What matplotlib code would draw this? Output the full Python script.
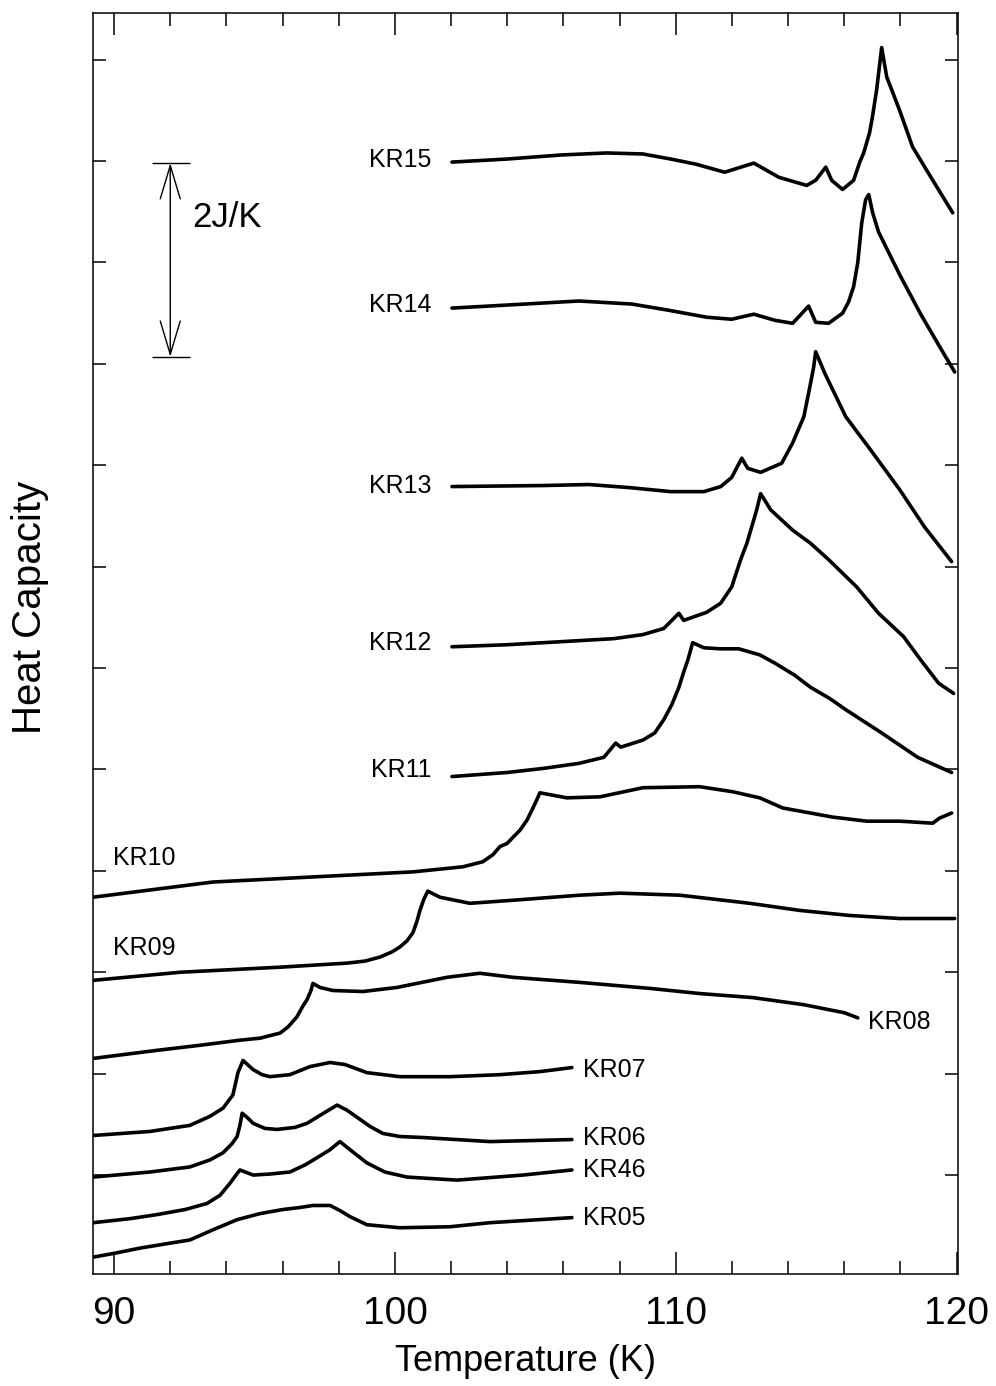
import matplotlib
matplotlib.use("Agg")
import matplotlib.pyplot as plt
from matplotlib.ticker import MultipleLocator

plt.rcParams['font.family'] = ['Liberation Sans', 'DejaVu Sans']

# ---------------- data (temperature K, heat capacity in offset units) ----------------
kr15_T = [102.03, 103.99, 105.91, 107.54, 108.83, 109.82, 110.71, 111.74, 112.78, 113.67, 114.66, 114.98, 115.34,
          115.55, 115.94, 116.33, 116.55, 116.69, 116.90, 117.01, 117.15, 117.33, 117.51, 117.97, 118.43, 119.15, 119.86]
kr15_C = [10.99, 11.02, 11.06, 11.08, 11.07, 11.02, 10.97, 10.89, 10.98, 10.84, 10.76, 10.81, 10.94,
          10.81, 10.72, 10.81, 10.99, 11.08, 11.28, 11.45, 11.70, 12.12, 11.83, 11.50, 11.14, 10.81, 10.49]

kr14_T = [102.03, 103.99, 106.55, 108.43, 109.72, 111.10, 111.99, 112.78, 113.52, 114.16, 114.73, 114.98,
          115.44, 115.94, 116.15, 116.33, 116.48, 116.62, 116.76, 116.87, 117.01, 117.22, 117.97, 118.72,
          119.50, 119.93]
kr14_C = [9.55, 9.58, 9.62, 9.59, 9.53, 9.46, 9.44, 9.49, 9.43, 9.40, 9.57, 9.41,
          9.40, 9.50, 9.61, 9.76, 10.00, 10.39, 10.62, 10.67, 10.49, 10.30, 9.88, 9.49,
          9.12, 8.92]

kr13_T = [102.03, 105.27, 106.90, 108.33, 109.82, 111.00, 111.60, 111.99, 112.35, 112.56, 113.02, 113.77,
          114.16, 114.56, 114.80, 114.91, 114.98, 115.30, 116.05, 116.94, 117.97, 118.86, 119.82]
kr13_C = [7.79, 7.80, 7.81, 7.78, 7.74, 7.74, 7.79, 7.88, 8.07, 7.97, 7.93, 8.02,
          8.22, 8.48, 8.81, 8.97, 9.12, 8.91, 8.48, 8.15, 7.76, 7.39, 7.05]

kr12_T = [102.03, 103.99, 105.91, 107.79, 108.83, 109.57, 110.11, 110.28, 111.10, 111.60, 111.99, 112.31,
          112.53, 112.70, 112.88, 113.02, 113.38, 113.77, 114.16, 114.80, 115.44, 116.44, 117.22, 118.11,
          118.72, 119.36, 119.89]
kr12_C = [6.21, 6.23, 6.26, 6.29, 6.33, 6.39, 6.54, 6.47, 6.55, 6.64, 6.80, 7.07,
          7.23, 7.39, 7.56, 7.72, 7.56, 7.46, 7.36, 7.23, 7.07, 6.80, 6.54, 6.31,
          6.08, 5.85, 5.75]

kr11_T = [102.03, 103.99, 105.27, 106.55, 107.44, 107.86, 108.04, 108.83, 109.25, 109.57, 109.86, 110.11,
          110.28, 110.43, 110.60, 111.00, 111.57, 112.24, 112.99, 113.52, 114.23, 114.80, 115.48, 116.05,
          117.33, 118.61, 119.82]
kr11_C = [4.93, 4.97, 5.01, 5.06, 5.12, 5.26, 5.22, 5.29, 5.36, 5.49, 5.64, 5.81,
          5.96, 6.08, 6.25, 6.20, 6.19, 6.19, 6.13, 6.05, 5.93, 5.81, 5.70, 5.59,
          5.36, 5.12, 4.97]

kr10_T = [89.25, 93.52, 97.08, 100.64, 102.42, 103.13, 103.49, 103.74, 103.99, 104.20, 104.45, 104.70,
          104.88, 105.05, 105.16, 106.12, 107.30, 108.83, 110.85, 112.03, 112.99, 113.81, 115.59, 116.80,
          117.97, 119.15, 119.39, 119.82]
kr10_C = [3.74, 3.89, 3.94, 3.99, 4.04, 4.09, 4.16, 4.24, 4.27, 4.33, 4.40, 4.50,
          4.60, 4.70, 4.77, 4.72, 4.73, 4.82, 4.83, 4.78, 4.72, 4.62, 4.53, 4.49,
          4.49, 4.47, 4.52, 4.57]

kr09_T = [89.25, 92.35, 95.91, 98.29, 98.93, 99.47, 99.89, 100.18, 100.43, 100.64, 100.78, 100.89,
          101.03, 101.17, 101.60, 102.67, 104.20, 106.58, 108.01, 110.14, 112.63, 114.41, 116.19, 117.97,
          119.93]
kr09_C = [2.92, 3.00, 3.05, 3.09, 3.11, 3.15, 3.20, 3.25, 3.31, 3.39, 3.50, 3.61,
          3.72, 3.80, 3.74, 3.68, 3.71, 3.76, 3.78, 3.76, 3.68, 3.61, 3.56, 3.53,
          3.53]

kr08_T = [89.25, 91.53, 93.06, 94.48, 95.20, 95.62, 95.91, 96.19, 96.51, 96.73, 96.87, 97.01,
          97.08, 97.33, 97.79, 98.86, 100.07, 101.85, 103.02, 104.20, 106.58, 109.11, 110.85, 112.74,
          114.56, 116.01, 116.48]
kr08_C = [2.15, 2.23, 2.28, 2.33, 2.35, 2.38, 2.40, 2.46, 2.56, 2.67, 2.73, 2.82,
          2.89, 2.85, 2.82, 2.81, 2.85, 2.95, 2.99, 2.95, 2.90, 2.84, 2.79, 2.75,
          2.68, 2.60, 2.55]

kr07_T = [89.25, 91.28, 92.70, 93.42, 93.88, 94.23, 94.41, 94.59, 94.95, 95.27, 95.55, 96.26,
          96.98, 97.69, 98.22, 99.00, 100.18, 101.96, 103.74, 105.16, 106.30]
kr07_C = [1.39, 1.43, 1.49, 1.58, 1.66, 1.79, 2.01, 2.13, 2.04, 1.99, 1.97, 1.99,
          2.07, 2.11, 2.09, 2.01, 1.97, 1.97, 1.99, 2.02, 2.06]

kr06_T = [89.25, 91.28, 92.70, 93.42, 93.88, 94.20, 94.38, 94.48, 94.56, 94.77, 94.95, 95.37,
          95.80, 96.44, 96.87, 97.40, 97.94, 98.29, 98.65, 99.11, 99.57, 100.18, 101.00, 103.38,
          106.30]
kr06_C = [0.98, 1.03, 1.08, 1.15, 1.22, 1.31, 1.38, 1.49, 1.61, 1.56, 1.51, 1.46,
          1.45, 1.47, 1.51, 1.60, 1.69, 1.64, 1.57, 1.48, 1.41, 1.38, 1.37, 1.33,
          1.35]

kr46_T = [89.25, 90.57, 91.53, 92.53, 93.31, 93.77, 94.13, 94.34, 94.48, 94.95, 95.55, 96.26,
          96.80, 97.22, 97.69, 98.04, 98.40, 99.00, 99.64, 100.43, 102.21, 104.56, 106.30]
kr46_C = [0.53, 0.57, 0.61, 0.66, 0.72, 0.80, 0.92, 1.00, 1.05, 1.00, 1.01, 1.03,
          1.10, 1.17, 1.25, 1.33, 1.25, 1.12, 1.03, 0.98, 0.95, 1.00, 1.05]

kr05_T = [89.25, 90.04, 90.93, 91.81, 92.70, 93.52, 94.38, 95.20, 96.01, 96.62, 97.08, 97.69,
          98.04, 98.40, 99.00, 100.18, 101.96, 103.38, 106.30]
kr05_C = [0.19, 0.23, 0.28, 0.32, 0.36, 0.46, 0.56, 0.62, 0.66, 0.68, 0.70, 0.70,
          0.65, 0.59, 0.51, 0.48, 0.49, 0.53, 0.58]

names = ["KR15", "KR14", "KR13", "KR12", "KR11", "KR10", "KR09", "KR08", "KR07", "KR06", "KR46", "KR05"]
series_T = [kr15_T, kr14_T, kr13_T, kr12_T, kr11_T, kr10_T, kr09_T, kr08_T, kr07_T, kr06_T, kr46_T, kr05_T]
series_C = [kr15_C, kr14_C, kr13_C, kr12_C, kr11_C, kr10_C, kr09_C, kr08_C, kr07_C, kr06_C, kr46_C, kr05_C]

# label placement (x, y, horizontal alignment)
label_pos = [(101.3, 11.01, 'right'), (101.3, 9.58, 'right'), (101.3, 7.80, 'right'),
             (101.3, 6.25, 'right'), (101.3, 4.99, 'right'), (89.95, 4.13, 'left'),
             (89.95, 3.24, 'left'), (116.85, 2.51, 'left'), (106.7, 2.04, 'left'),
             (106.7, 1.37, 'left'), (106.7, 1.05, 'left'), (106.7, 0.58, 'left')]

# ---------------- figure ----------------
fig = plt.figure(figsize=(9.96, 13.86), dpi=100)
ax = fig.add_axes([0.0934, 0.0808, 0.8685, 0.9098])

for T, C in zip(series_T, series_C):
    ax.plot(T, C, color='black', lw=2.6, solid_joinstyle='round', solid_capstyle='round')

for name, (lx, ly, ha) in zip(names, label_pos):
    ax.text(lx, ly, name, fontsize=18, ha=ha, va='center', color='black')

# scale bar 2 J/K
bar_x, bar_lo, bar_hi = 92.0, 9.07, 10.98
ax.annotate('', xy=(bar_x, bar_hi), xytext=(bar_x, bar_lo),
            arrowprops=dict(arrowstyle='<->,head_length=1.2,head_width=0.36', lw=1.0,
                            color='black', shrinkA=0, shrinkB=0, mutation_scale=20))
ax.hlines([bar_lo, bar_hi], 91.35, 92.70, color='black', lw=1.0)
ax.text(92.78, 10.44, '2J/K', fontsize=25, ha='left', va='center')

ax.set_xlim(89.25, 120.05)
ax.set_ylim(0.024, 12.46)

ax.xaxis.set_major_locator(MultipleLocator(10))
ax.xaxis.set_minor_locator(MultipleLocator(2))
ax.yaxis.set_major_locator(MultipleLocator(1))

ax.tick_params(axis='x', which='major', direction='in', length=15.8, width=1.1, top=True,
               labelsize=28, pad=16)
ax.tick_params(axis='x', which='minor', direction='in', length=9.4, width=1.1, top=True)
ax.tick_params(axis='y', which='major', direction='in', length=9.4, width=1.1,
               left=True, right=True, labelleft=False)
for sp in ax.spines.values():
    sp.set_linewidth(1.1)

ax.set_xlabel('Temperature (K)', fontsize=26, va='center')
ax.xaxis.set_label_coords(0.5, -0.069)
ax.set_ylabel('Heat Capacity', fontsize=29, va='center')
ax.yaxis.set_label_coords(-0.0728, 0.529)

fig.savefig('out.png', dpi=100)
